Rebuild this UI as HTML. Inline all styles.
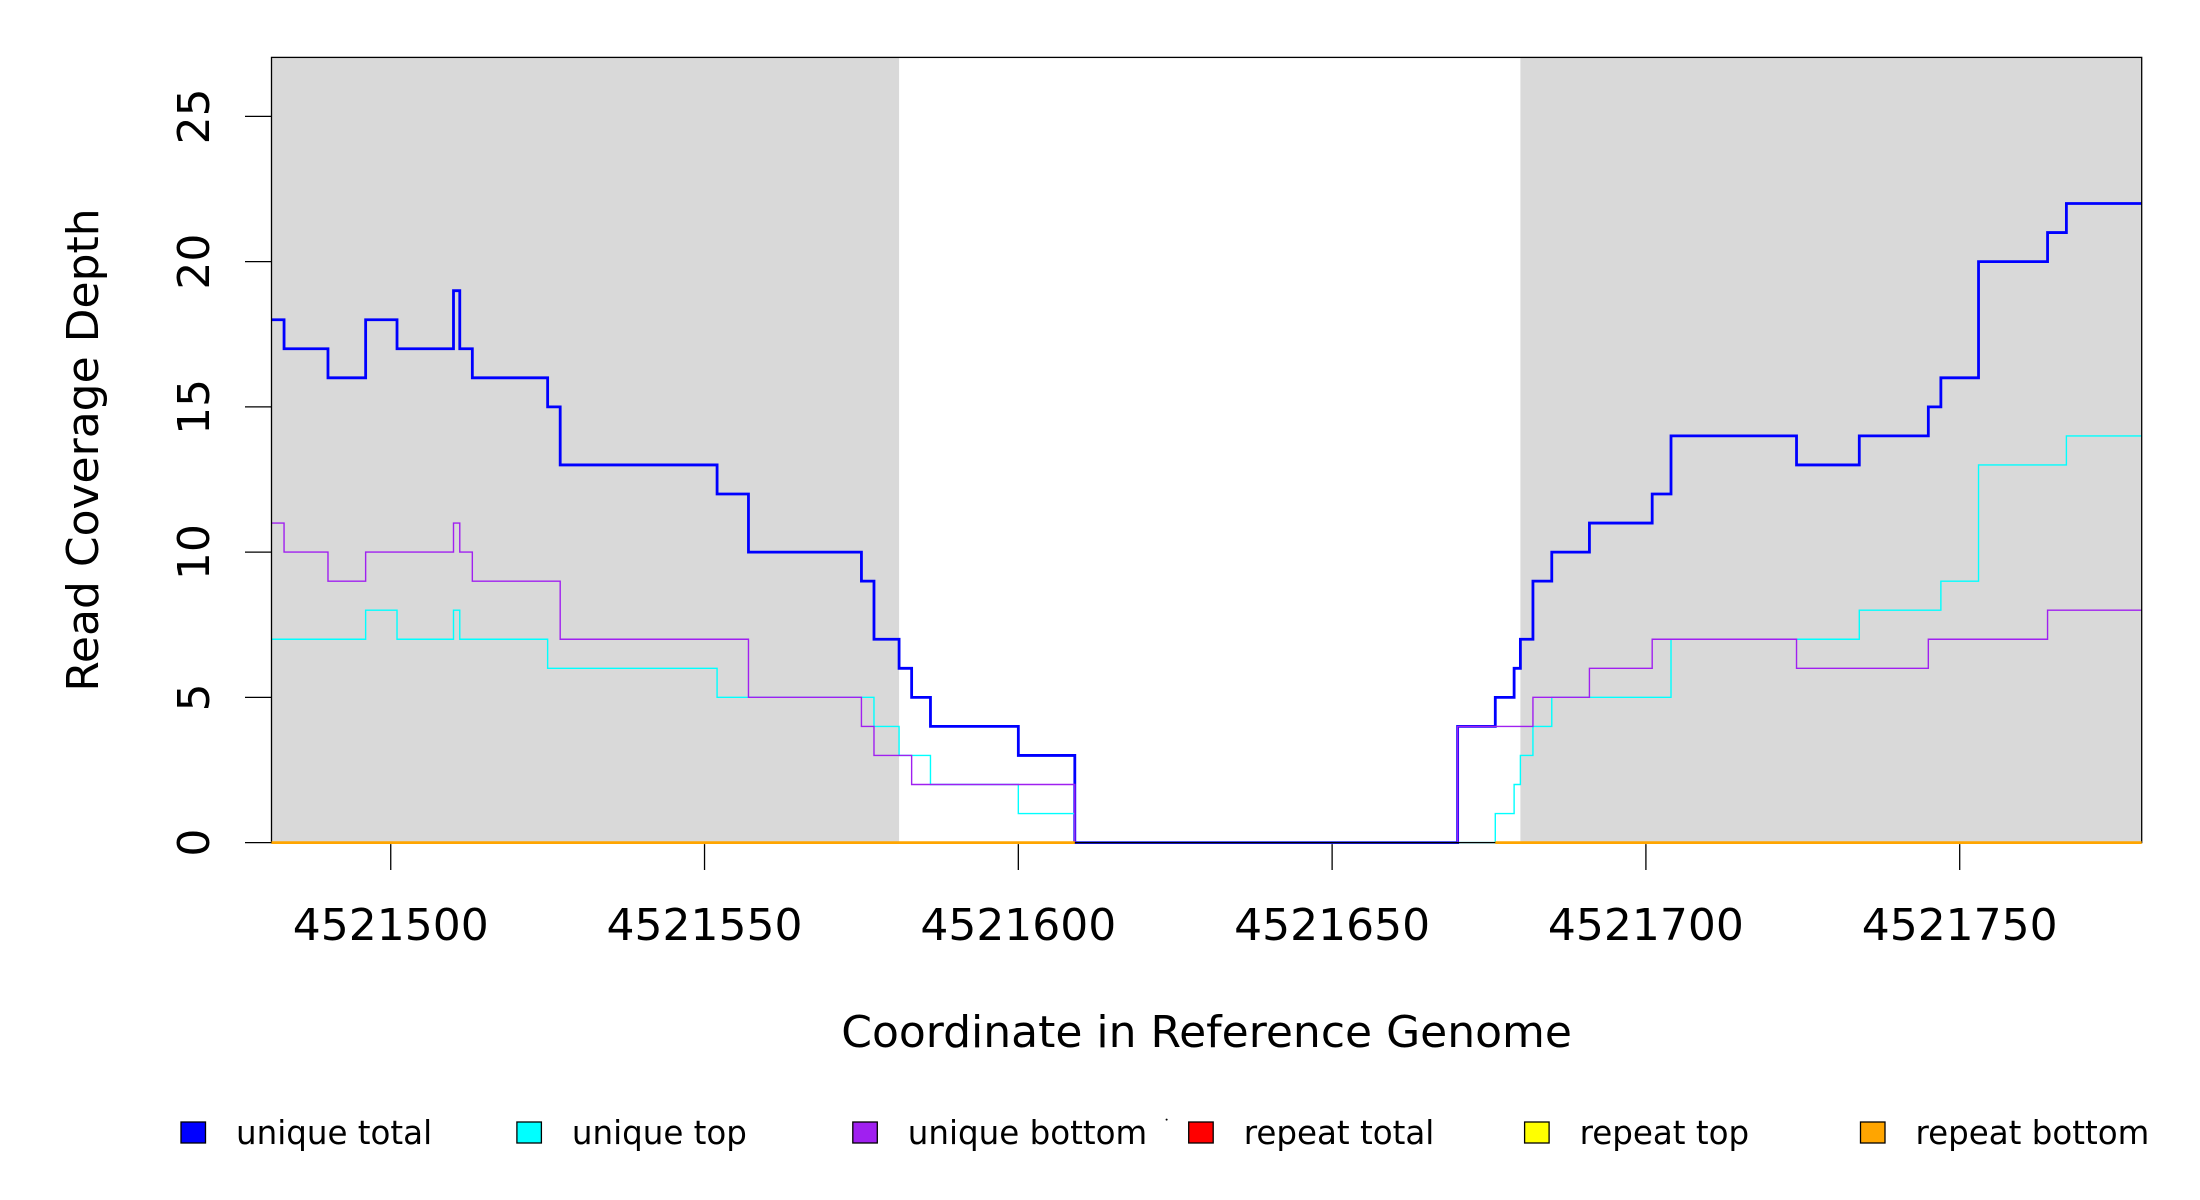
<!DOCTYPE html>
<html><head><meta charset="utf-8"><style>
html,body{margin:0;padding:0;background:#fff;}
svg{display:block;font-family:"DejaVu Sans","Liberation Sans",sans-serif;}
</style></head><body>
<svg id="chart" width="2200" height="1200" viewBox="0 0 2200 1200" xmlns="http://www.w3.org/2000/svg">
<g id="bg"></g>
<g id="series"></g>
<g id="axes"></g>
<g id="repeat"></g>
<g id="legend"></g>
</svg>
<script>
const xTicks = [4521500, 4521550, 4521600, 4521650, 4521700, 4521750];
const yTicks = [0, 5, 10, 15, 20, 25];
const shadedRegions = [[4521481, 4521581], [4521680, 4521779]];
const totalX = [4521481,4521483,4521490,4521496,4521501,4521510,4521511,4521513,4521525,4521527,4521552,4521557,4521575,4521577,4521581,4521583,4521586,4521600,4521609,4521670,4521676,4521679,4521680,4521682,4521685,4521691,4521701,4521704,4521724,4521734,4521745,4521747,4521753,4521764,4521767];
const totalY = [18,17,16,18,17,19,17,16,15,13,12,10,9,7,6,5,4,3,0,4,5,6,7,9,10,11,12,14,13,14,15,16,20,21,22];
const topX = [4521481,4521496,4521501,4521510,4521511,4521525,4521552,4521577,4521581,4521586,4521600,4521609,4521676,4521679,4521680,4521682,4521685,4521704,4521734,4521747,4521753,4521767];
const topY = [7,8,7,8,7,6,5,4,3,2,1,0,1,2,3,4,5,7,8,9,13,14];
const bottomX = [4521481,4521483,4521490,4521496,4521510,4521511,4521513,4521527,4521557,4521575,4521577,4521583,4521609,4521670,4521682,4521691,4521701,4521724,4521745,4521764];
const bottomY = [11,10,9,10,11,10,9,7,5,4,3,2,0,4,5,6,7,6,7,8];
const repeatRanges = [[4521481, 4521609], [4521676, 4521779]];
const legendLabels = ["unique total","unique top","unique bottom","repeat total","repeat top","repeat bottom"];
const legendColors = ["#0000ff","#00ffff","#a020f0","#ff0000","#ffff00","#ffa500"];

const NS = "http://www.w3.org/2000/svg";
const L = 271.5, R = 2141.7, T = 57.4, B = 842.6;
const X0 = 4521481, X1 = 4521779, Y1 = 27.03;
const sx = v => L + (v - X0) / (X1 - X0) * (R - L);
const sy = v => B - v / Y1 * (B - T);
function mk(tag, attrs, parent) {
  const e = document.createElementNS(NS, tag);
  for (const k in attrs) e.setAttribute(k, attrs[k]);
  parent.appendChild(e); return e;
}
const bg = document.getElementById('bg');
shadedRegions.forEach(r => {
  const e = mk('rect', {x: sx(r[0]), y: T, width: sx(r[1]) - sx(r[0]), height: B - T, fill: '#d9d9d9'}, bg);
  
  
});
const ser = document.getElementById('series');
function stepPath(xs, ys) {
  let d = '';
  for (let i = 0; i < xs.length; i++) {
    const xa = sx(xs[i]), xb = sx(i + 1 < xs.length ? xs[i + 1] : X1), y = sy(ys[i]);
    d += (i === 0 ? 'M' + xa + ',' + y : 'L' + xa + ',' + y) + ' L' + xb + ',' + y + ' ';
  }
  return d;
}
const p1 = mk('path', {d: stepPath(totalX, totalY), fill: 'none', stroke: '#0000ff', 'stroke-width': 2.8}, ser);


const p2 = mk('path', {d: stepPath(topX, topY), fill: 'none', stroke: '#00ffff', 'stroke-width': 1.4}, ser);


const p3 = mk('path', {d: stepPath(bottomX, bottomY), fill: 'none', stroke: '#a020f0', 'stroke-width': 1.4}, ser);


const ax = document.getElementById('axes');
const box = mk('rect', {x: L, y: T, width: R - L, height: B - T, fill: 'none', stroke: '#000', 'stroke-width': 1.3}, ax);


const rep = document.getElementById('repeat');
repeatRanges.forEach(r => {
  const e = mk('line', {x1: sx(r[0]), x2: sx(r[1]), y1: sy(0), y2: sy(0), stroke: '#ffa500', 'stroke-width': 2.8}, rep);
  
  
});
xTicks.forEach(v => {
  const t = mk('line', {x1: sx(v), x2: sx(v), y1: B + 1.5, y2: 870, stroke: '#000', 'stroke-width': 1.3}, ax);
  
  
  const tx = mk('text', {x: sx(v), y: 940, 'font-size': 44, 'text-anchor': 'middle'}, ax);
  tx.textContent = v;
  
  
});
yTicks.forEach(v => {
  const t = mk('line', {x1: 245, x2: L, y1: sy(v), y2: sy(v), stroke: '#000', 'stroke-width': 1.3}, ax);
  
  
  const tx = mk('text', {x: 0, y: 0, 'font-size': 44, 'text-anchor': 'middle', transform: 'translate(209,' + sy(v) + ') rotate(-90)'}, ax);
  tx.textContent = v;
  
  
});
const xt = mk('text', {x: (L + R) / 2, y: 1047, 'font-size': 44, 'text-anchor': 'middle'}, ax);
xt.textContent = 'Coordinate in Reference Genome';


const yt = mk('text', {x: 0, y: 0, 'font-size': 44, 'text-anchor': 'middle', transform: 'translate(98,' + (T + B) / 2 + ') rotate(-90)'}, ax);
yt.textContent = 'Read Coverage Depth';


const lg = document.getElementById('legend');
legendLabels.forEach((lab, i) => {
  const x = 181 + i * 335.9;
  const g = mk('g', {}, lg);
  
  
  mk('rect', {x: x, y: 1122, width: 24.5, height: 21, fill: legendColors[i], stroke: '#000', 'stroke-width': 1.3}, g);
  const t = mk('text', {x: x + 55, y: 1144, 'font-size': 32.5}, g);
  t.textContent = lab;
});
mk('circle', {cx: 1166.6, cy: 1119.6, r: 1, fill: '#000'}, lg);
</script>
</body></html>
